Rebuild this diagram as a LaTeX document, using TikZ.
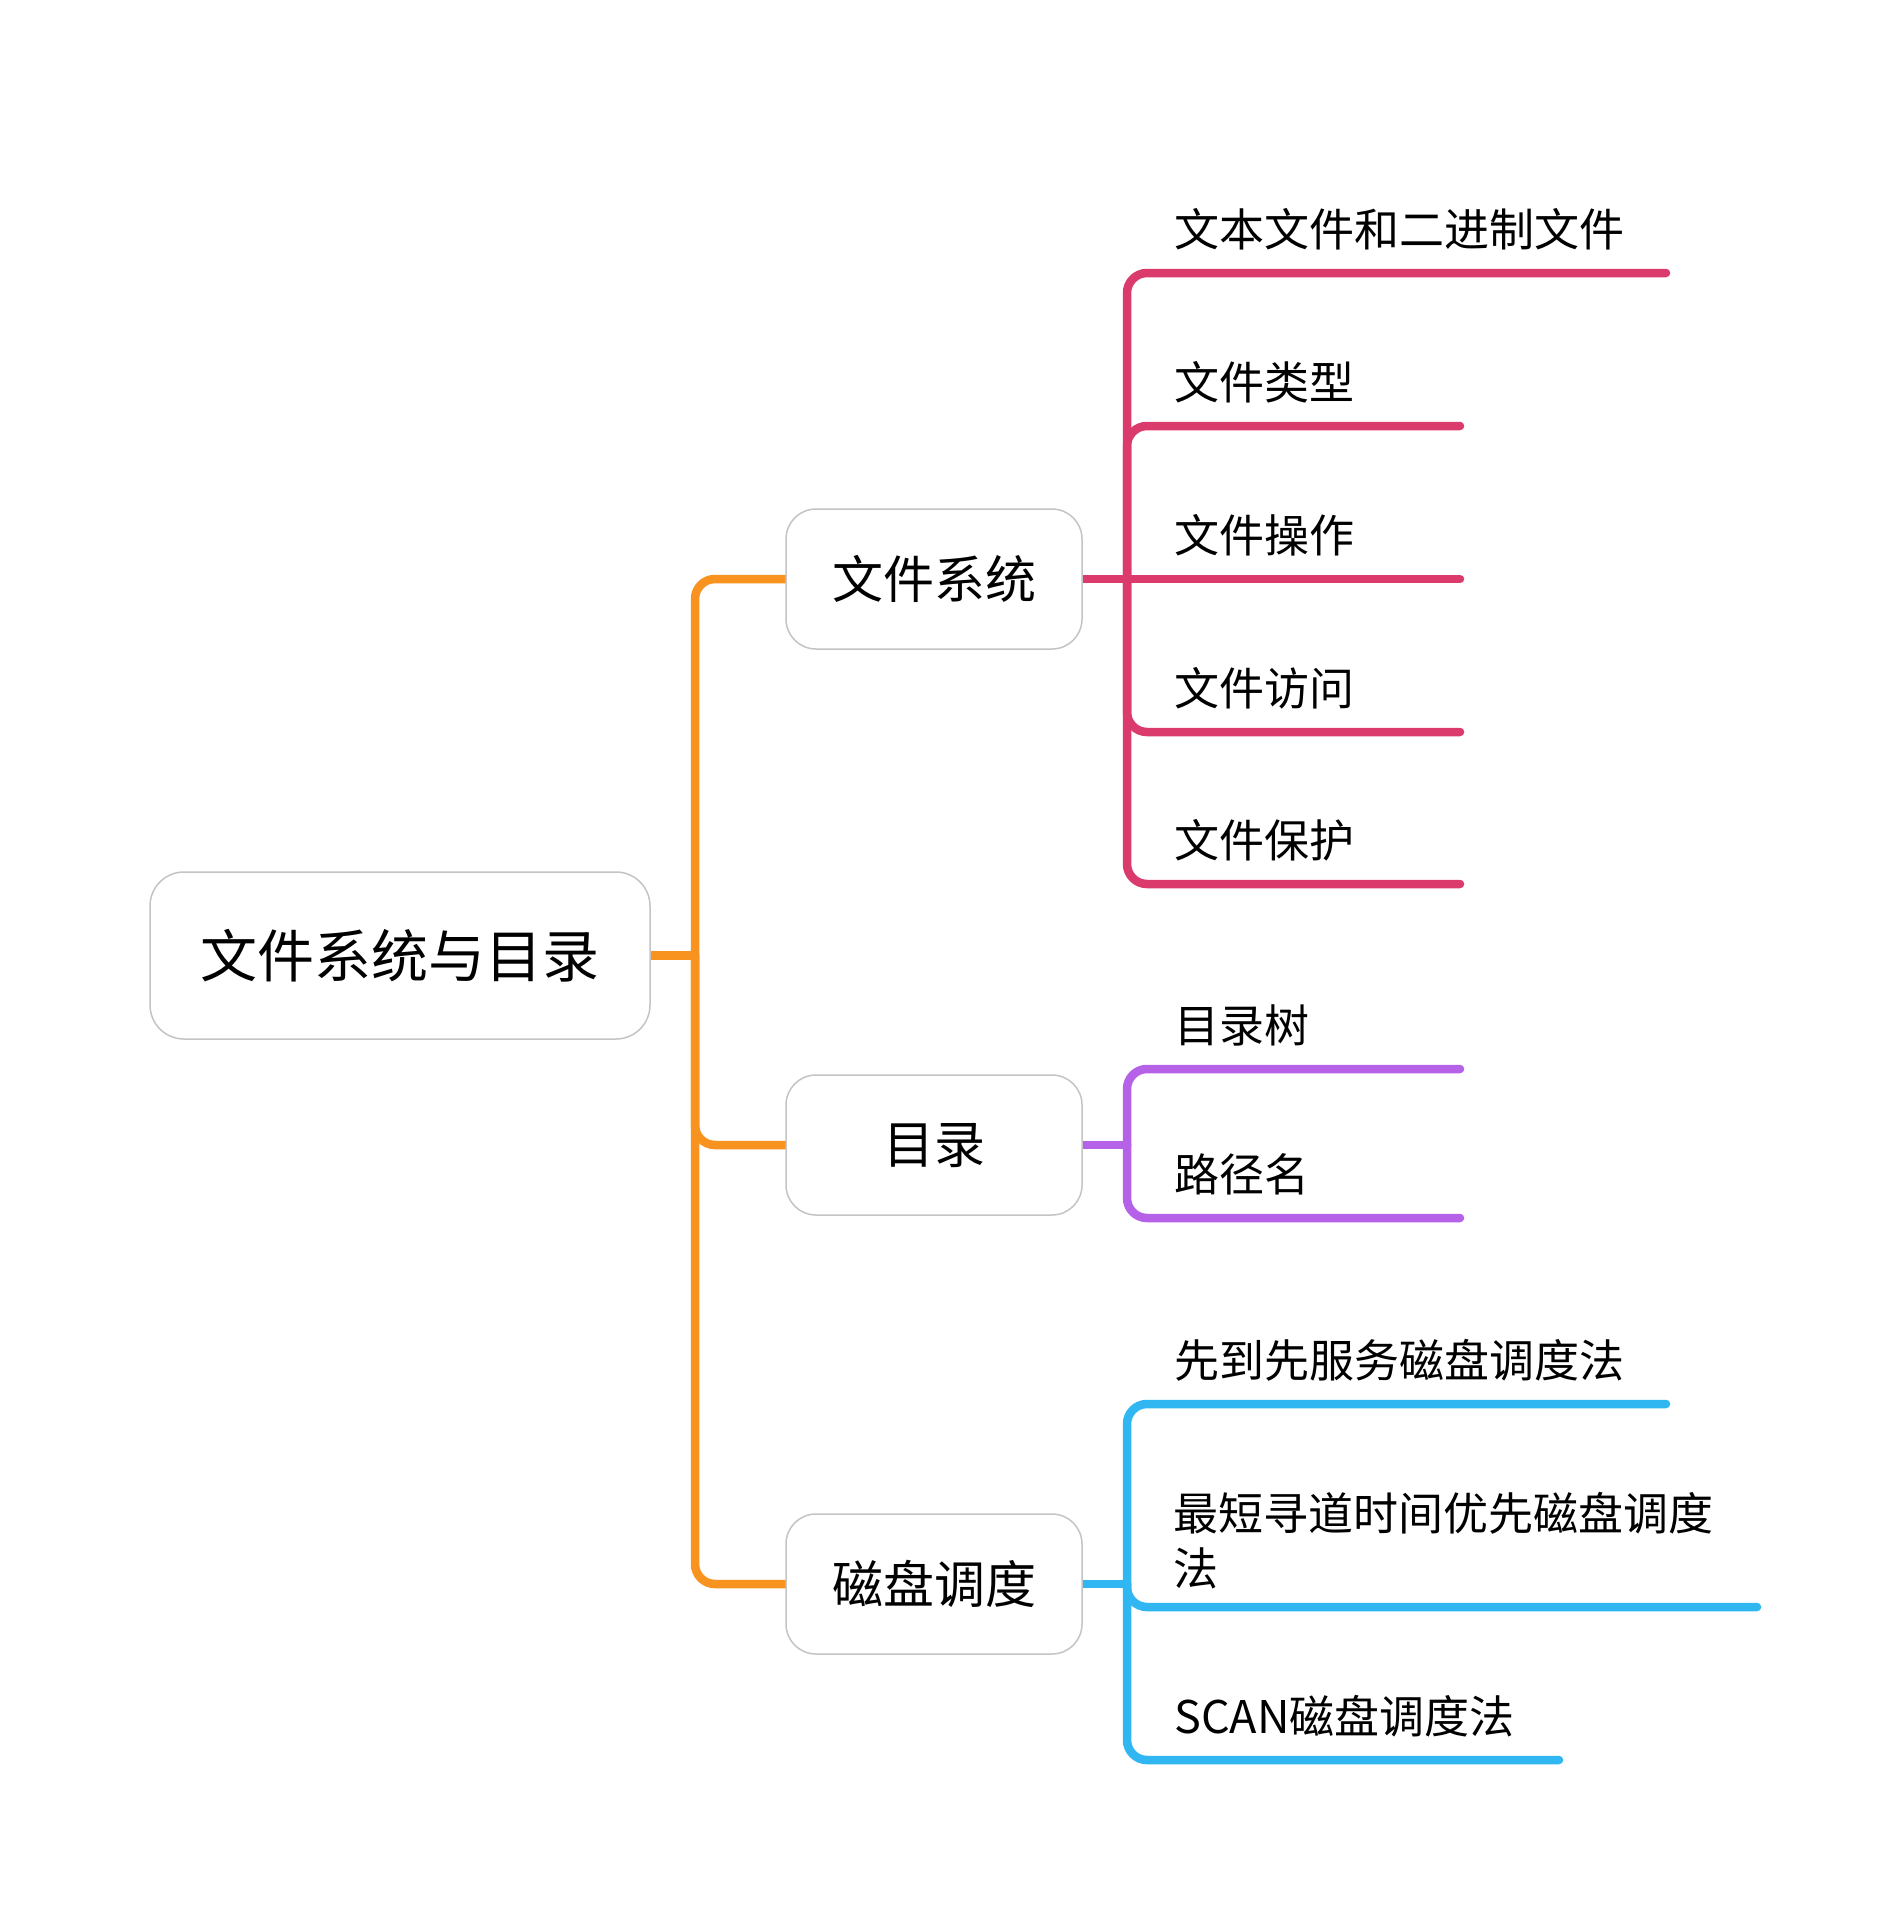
\documentclass[tikz,border=0pt]{standalone}
\usepackage{fontspec}
\setmainfont{Noto Sans CJK SC}
\usetikzlibrary{backgrounds}
\definecolor{orangec}{HTML}{F7931E}
\definecolor{pinkc}{HTML}{DB3A6C}
\definecolor{purplec}{HTML}{B562E8}
\definecolor{bluec}{HTML}{30B6F1}
\definecolor{boxgray}{HTML}{C4C4C4}
\begin{document}
\begin{tikzpicture}[x=1pt,y=-1pt,
  box/.style={draw=boxgray, line width=1.5pt, fill=white, rounded corners=30pt, inner sep=0pt, minimum width=296pt, minimum height=140pt, font=\fontsize{51pt}{60pt}\selectfont},
  rootbox/.style={box, minimum width=500pt, minimum height=167pt, rounded corners=34pt, font=\fontsize{57pt}{66pt}\selectfont},
  leaf/.style={anchor=west, inner sep=0pt, font=\fontsize{45pt}{55pt}\selectfont},
  conn/.style={line width=8.5pt, rounded corners=20pt, line cap=round},
]
\useasboundingbox (0,0) rectangle (1903,1911);
% boxes
\node[rootbox] (root) at (400,955.5) {文件系统与目录};
\node[box] (fs) at (934,579) {文件系统};
\node[box] (ml) at (934,1145) {目录};
\node[box] (cp) at (934,1584) {磁盘调度};
% junctions and line ends
\coordinate (jroot) at (695,955.5);
\coordinate (jfs) at (1127,579);
\coordinate (jml) at (1127,1145);
\coordinate (jcp) at (1127,1584);
\coordinate (e1) at (1666,273);
\coordinate (e2) at (1460,426);
\coordinate (e3) at (1460,579);
\coordinate (e4) at (1460,732);
\coordinate (e5) at (1460,884);
\coordinate (f1) at (1460,1069);
\coordinate (f2) at (1460,1218);
\coordinate (g1) at (1666,1404);
\coordinate (g2) at (1757,1607);
\coordinate (g3) at (1559,1760);
% leaf texts
\node[leaf] (t1) at (1174,229) {文本文件和二进制文件};
\node[leaf] (t2) at (1174,382) {文件类型};
\node[leaf] (t3) at (1174,535) {文件操作};
\node[leaf] (t4) at (1174,688) {文件访问};
\node[leaf] (t5) at (1174,840) {文件保护};
\node[leaf] (u1) at (1174,1025) {目录树};
\node[leaf] (u2) at (1174,1174) {路径名};
\node[leaf] (v1) at (1174,1360) {先到先服务磁盘调度法};
\node[leaf, anchor=north west, align=left] (v2) at (1173,1492) {最短寻道时间优先磁盘调度\\法};
\node[leaf] (v3) at (1174,1716) {SCAN磁盘调度法};
% connectors
\begin{scope}[on background layer]
\fill[white] (0,0) rectangle (1903,1911);
\draw[conn, orangec] (root.east) -- (jroot);
\draw[conn, orangec] (jroot) |- (fs.west);
\draw[conn, orangec] (jroot) |- (ml.west);
\draw[conn, orangec] (jroot) |- (cp.west);
\draw[conn, pinkc] (fs.east) -- (jfs);
\draw[conn, pinkc] (jfs) |- (e1);
\draw[conn, pinkc] (jfs) |- (e2);
\draw[conn, pinkc] (jfs) -- (e3);
\draw[conn, pinkc] (jfs) |- (e4);
\draw[conn, pinkc] (jfs) |- (e5);
\draw[conn, purplec] (ml.east) -- (jml);
\draw[conn, purplec] (jml) |- (f1);
\draw[conn, purplec] (jml) |- (f2);
\draw[conn, bluec] (cp.east) -- (jcp);
\draw[conn, bluec] (jcp) |- (g1);
\draw[conn, bluec] (jcp) |- (g2);
\draw[conn, bluec] (jcp) |- (g3);
\end{scope}
\end{tikzpicture}
\end{document}
